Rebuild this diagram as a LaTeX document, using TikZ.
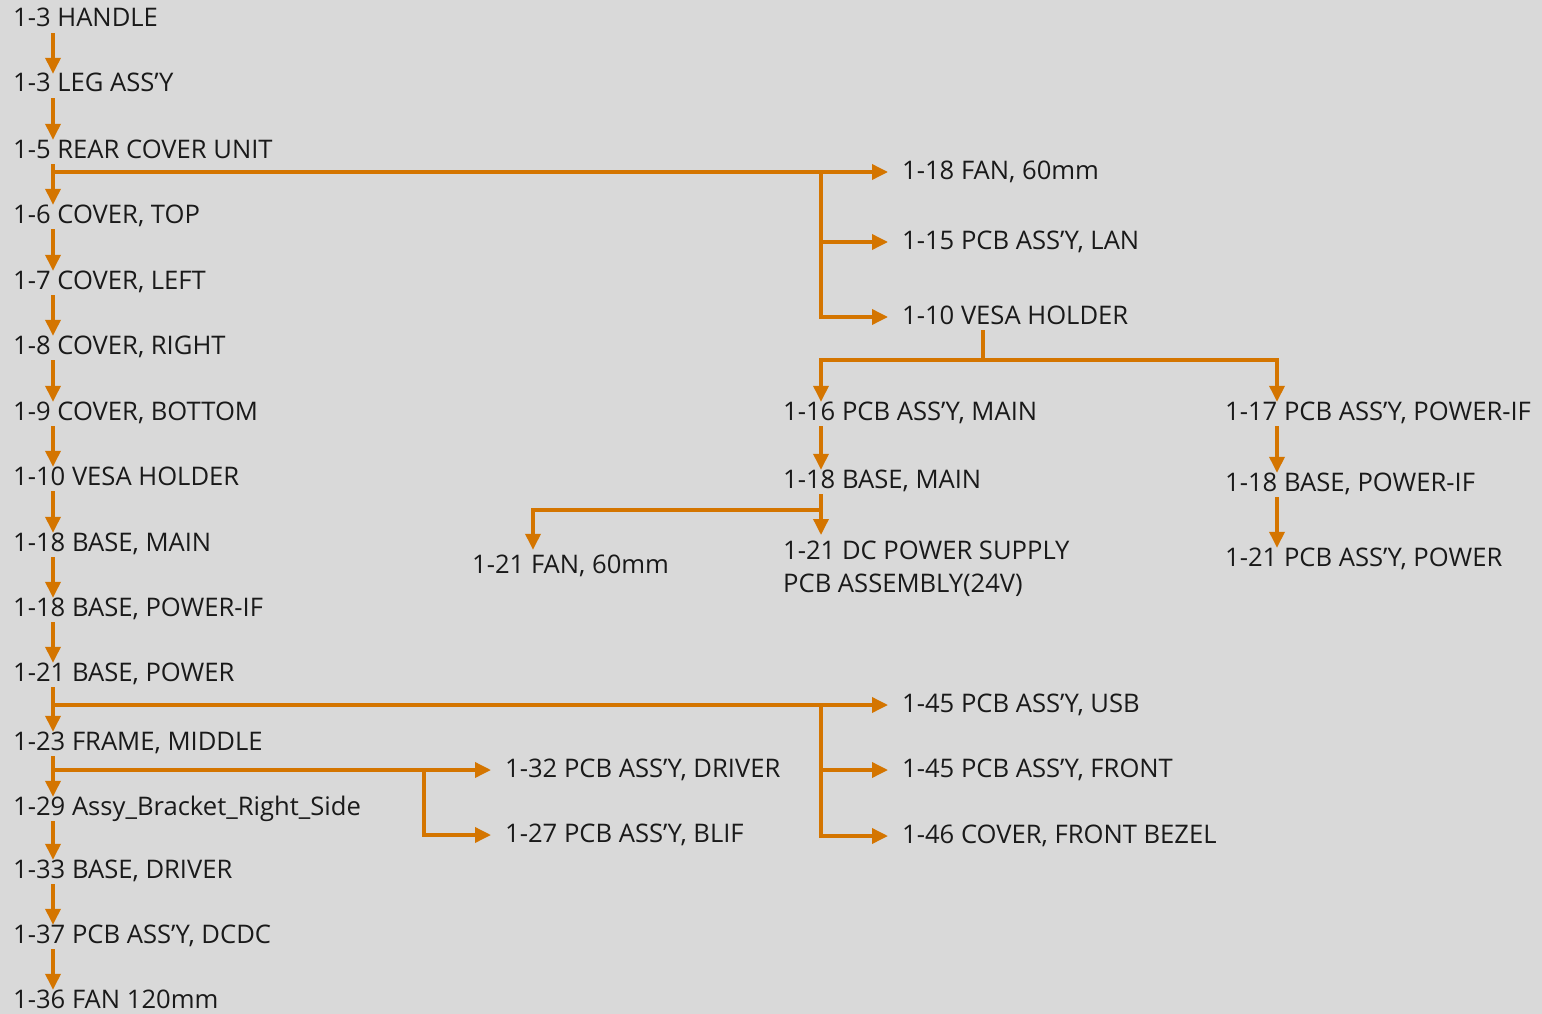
\documentclass[tikz,border=0pt]{standalone}
\usepackage{fontspec}
\setmainfont{Open Sans}
\usetikzlibrary{arrows.meta}
\definecolor{bomBg}{HTML}{D9D9D9}
\definecolor{bomLink}{HTML}{D47500}
\definecolor{bomText}{HTML}{1A1A1A}
\tikzset{
  part/.style={
    anchor=west, inner sep=0pt, text height=16pt, text depth=2pt,
    text=bomText, font=\fontsize{25.6}{33}\selectfont
  },
  link/.style={draw=bomLink, line width=3.5pt},
  flow/.style={link, -{Triangle[length=16pt, width=15pt]}},
  next/.style={flow, shorten <=4pt, shorten >=2pt},
  feed/.style={flow, shorten <=4pt, shorten >=14pt},
  fork/.style={flow, shorten >=14pt},
  drop/.style={flow, shorten >=2pt}
}
\begin{document}
\begin{tikzpicture}[x=1pt, y=-1pt]
  \fill[bomBg] (0,0) rectangle (1542,1014);
  \useasboundingbox (0,0) rectangle (1542,1014);
  \coordinate (colA) at (53,0);
  \coordinate (colB) at (821,0);
  \coordinate (colC) at (1277,0);
  \coordinate (colD) at (533,0);
  \coordinate (colE) at (424,0);
  \coordinate (vsplit) at (983,360);
  \coordinate (msplit) at (821,510);

  \node[part] (handle) at (13,20) {1-3 HANDLE};
  \node[part] (leg) at (13,85) {1-3 LEG ASS’Y};
  \node[part] (rearcover) at (13,151) {1-5 REAR COVER UNIT};
  \node[part] (covertop) at (13,216) {1-6 COVER, TOP};
  \node[part] (coverleft) at (13,282) {1-7 COVER, LEFT};
  \node[part] (coverright) at (13,347) {1-8 COVER, RIGHT};
  \node[part] (coverbottom) at (13,413) {1-9 COVER, BOTTOM};
  \node[part] (vesa) at (13,478) {1-10 VESA HOLDER};
  \node[part] (basemain) at (13,544) {1-18 BASE, MAIN};
  \node[part] (basepowerif) at (13,609) {1-18 BASE, POWER-IF};
  \node[part] (basepower) at (13,674) {1-21 BASE, POWER};
  \node[part] (frame) at (13,743) {1-23 FRAME, MIDDLE};
  \node[part] (bracket) at (13,808) {1-29 Assy\_Bracket\_Right\_Side};
  \node[part] (basedriver) at (13,871) {1-33 BASE, DRIVER};
  \node[part] (dcdc) at (13,936) {1-37 PCB ASS’Y, DCDC};
  \node[part] (fan120) at (13,1001) {1-36 FAN 120mm};

  \node[part] (fan18) at (902,172) {1-18 FAN, 60mm};
  \node[part] (lan) at (902,242) {1-15 PCB ASS’Y, LAN};
  \node[part] (vesaR) at (902,317) {1-10 VESA HOLDER};
  \node[part] (pcbmain) at (783,413) {1-16 PCB ASS’Y, MAIN};
  \node[part] (basemainR) at (783,481) {1-18 BASE, MAIN};
  \node[part, anchor=north west, align=left, text height=49pt] (dcps) at (783,543) {1-21 DC POWER SUPPLY\\PCB ASSEMBLY(24V)};
  \node[part] (fan21) at (472,566) {1-21 FAN, 60mm};
  \node[part] (pcbpowerif) at (1225,413) {1-17 PCB ASS’Y, POWER-IF};
  \node[part] (basepowerifR) at (1225,484) {1-18 BASE, POWER-IF};
  \node[part] (pcbpower) at (1225,559) {1-21 PCB ASS’Y, POWER};
  \node[part] (usb) at (902,705) {1-45 PCB ASS’Y, USB};
  \node[part] (front) at (902,770) {1-45 PCB ASS’Y, FRONT};
  \node[part] (bezel) at (902,836) {1-46 COVER, FRONT BEZEL};
  \node[part] (driver) at (505,770) {1-32 PCB ASS’Y, DRIVER};
  \node[part] (blif) at (505,835) {1-27 PCB ASS’Y, BLIF};

  \draw[next] (handle.south -| colA) -- (leg.north -| colA);
  \draw[next] (leg.south -| colA) -- (rearcover.north -| colA);
  \draw[next] (rearcover.south -| colA) -- (covertop.north -| colA);
  \draw[next] (covertop.south -| colA) -- (coverleft.north -| colA);
  \draw[next] (coverleft.south -| colA) -- (coverright.north -| colA);
  \draw[next] (coverright.south -| colA) -- (coverbottom.north -| colA);
  \draw[next] (coverbottom.south -| colA) -- (vesa.north -| colA);
  \draw[next] (vesa.south -| colA) -- (basemain.north -| colA);
  \draw[next] (basemain.south -| colA) -- (basepowerif.north -| colA);
  \draw[next] (basepowerif.south -| colA) -- (basepower.north -| colA);
  \draw[next] (basepower.south -| colA) -- (frame.north -| colA);
  \draw[next] (frame.south -| colA) -- (bracket.north -| colA);
  \draw[next] (bracket.south -| colA) -- (basedriver.north -| colA);
  \draw[next] (basedriver.south -| colA) -- (dcdc.north -| colA);
  \draw[next] (dcdc.south -| colA) -- (fan120.north -| colA);

  \draw[feed] (rearcover.south -| colA) |- (fan18.west);
  \draw[fork] (fan18.west -| colB) |- (lan.west);
  \draw[fork] (fan18.west -| colB) |- (vesaR.west);
  \draw[link, shorten <=4pt] (vesaR.south -| vsplit) -- (vsplit);
  \draw[drop] (vsplit) -| (pcbmain.north -| colB);
  \draw[drop] (vsplit) -| (pcbpowerif.north -| colC);
  \draw[next] (pcbmain.south -| colB) -- (basemainR.north -| colB);
  \draw[next, shorten >=8pt] (basemainR.south -| colB) -- (dcps.north -| colB);
  \draw[drop, shorten >=7pt] (msplit) -| (fan21.north -| colD);
  \draw[next] (pcbpowerif.south -| colC) -- (basepowerifR.north -| colC);
  \draw[next] (basepowerifR.south -| colC) -- (pcbpower.north -| colC);

  \draw[feed] (basepower.south -| colA) |- (usb.west);
  \draw[fork] (usb.west -| colB) |- (front.west);
  \draw[fork] (usb.west -| colB) |- (bezel.west);
  \draw[feed] (frame.south -| colA) |- (driver.west);
  \draw[fork] (driver.west -| colE) |- (blif.west);
\end{tikzpicture}
\end{document}
